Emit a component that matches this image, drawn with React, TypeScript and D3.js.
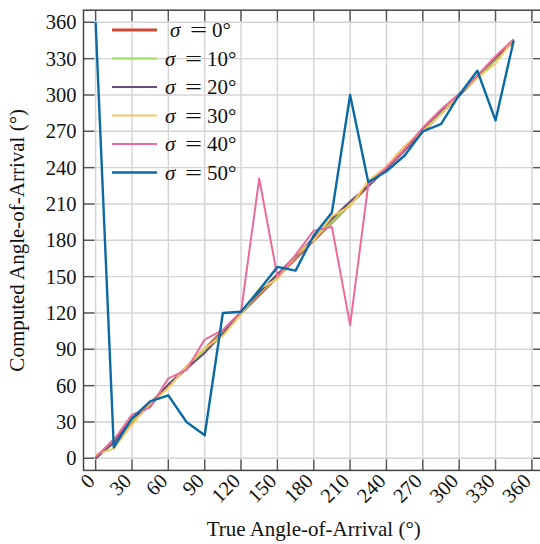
import React from "react";
import * as d3 from "d3";

const trueAngles = [0, 15, 30, 45, 60, 75, 90, 105, 120, 135, 150, 165, 180, 195, 210, 225, 240, 255, 270, 285, 300, 315, 330, 345];
const sigma0 = [0, 15, 30, 45, 60, 75, 90, 105, 120, 135, 150, 165, 180, 195, 210, 225, 240, 255, 270, 285, 300, 315, 330, 345];
const sigma10 = [1, 12, 31, 44, 60, 74, 89, 104, 120, 136, 150, 166, 181, 195, 210, 226, 240, 256, 271, 286, 300, 315, 330, 345];
const sigma20 = [0, 13, 33, 43, 61, 74, 87, 103, 121, 137, 152, 167, 182, 198, 212, 225, 239, 254, 272, 287, 299, 316, 331, 344];
const sigma30 = [3, 8, 28, 45, 58, 76, 91, 101, 119, 140, 148, 168, 180, 200, 208, 229, 241, 258, 270, 284, 301, 314, 326, 346];
const sigma40 = [1, 15, 36, 42, 66, 73, 98, 106, 121, 231, 150, 168, 188, 191, 110, 226, 240, 255, 273, 288, 301, 316, 332, 346];
const sigma50 = [360, 9, 33, 47, 52, 30, 19, 120, 121, 139, 158, 155, 184, 203, 300, 228, 237, 250, 270, 276, 300, 320, 279, 345];

const sigmaLabels = ["0", "10", "20", "30", "40", "50"];
const seriesColors = ["#cc4b37", "#a0dc64", "#6b4c7a", "#f7c862", "#ed6a9a", "#0b6aa3"];
const seriesWidths = [3, 2, 2, 2, 2, 2.4];
const tickValues = [0, 30, 60, 90, 120, 150, 180, 210, 240, 270, 300, 330, 360];

const W = 540;
const H = 544;
const left = 83.5;
const right = 544;
const top = 10.2;
const bottom = 470.4;
const FONT = "Liberation Serif, DejaVu Serif, serif";
const fontStyle = { fontFamily: FONT };

export default function App() {
  const x = d3.scaleLinear().domain([-10, 370]).range([left, right]);
  const y = d3.scaleLinear().domain([-10, 370]).range([bottom, top]);
  const series = [sigma0, sigma10, sigma20, sigma30, sigma40, sigma50];
  const line = d3
    .line<number>()
    .x((_, i) => x(trueAngles[i]))
    .y((d) => y(d));

  const legendY0 = 30;
  const legendStep = 28.5;

  return (
    <svg
      width={W}
      height={H}
      style={{ position: "absolute", left: 0, top: 0, display: "block", background: "#fff", fontFamily: FONT }}
    >
      <defs>
        <clipPath id="plot">
          <rect x={left} y={top} width={right - left} height={bottom - top} />
        </clipPath>
      </defs>
      {/* grid */}
      <g stroke="#d4d4d4" strokeWidth={1.4}>
        {tickValues.map((t) => (
          <line key={"gx" + t} x1={x(t)} x2={x(t)} y1={top} y2={bottom} />
        ))}
        {tickValues.map((t) => (
          <line key={"gy" + t} x1={left} x2={right} y1={y(t)} y2={y(t)} />
        ))}
      </g>
      {/* ticks inward */}
      <g stroke="#555" strokeWidth={1.4}>
        {tickValues.map((t) => (
          <React.Fragment key={"t" + t}>
            <line x1={x(t)} x2={x(t)} y1={bottom} y2={bottom - 11} />
            <line x1={x(t)} x2={x(t)} y1={top} y2={top + 11} />
            <line x1={left} x2={left + 11} y1={y(t)} y2={y(t)} />
            <line x1={right} x2={right - 11} y1={y(t)} y2={y(t)} />
          </React.Fragment>
        ))}
      </g>
      {/* series */}
      <g clipPath="url(#plot)" fill="none" strokeLinejoin="round">
        {series.map((s, i) => (
          <path key={"s" + i} d={line(s) || ""} stroke={seriesColors[i]} strokeWidth={seriesWidths[i]} />
        ))}
      </g>
      {/* spines */}
      <rect x={left} y={top} width={right - left} height={bottom - top} fill="none" stroke="#444" strokeWidth={1.5} />
      {/* y tick labels */}
      <g fontSize={20.5} fill="#111" textAnchor="end">
        {tickValues.map((t) => (
          <text key={"yl" + t} x={left - 7} y={y(t) + 7} style={fontStyle}>
            {t}
          </text>
        ))}
      </g>
      {/* x tick labels */}
      <g fontSize={20.5} fill="#111" textAnchor="end">
        {tickValues.map((t) => (
          <text
            key={"xl" + t}
            transform={`translate(${x(t) - 4.5},${bottom + 7}) rotate(-45)`}
            dy={7}
            style={fontStyle}
          >
            {t}
          </text>
        ))}
      </g>
      {/* axis titles */}
      <text x={(left + right) / 2} y={536} fontSize={21} textAnchor="middle" fill="#111" style={fontStyle}>
        True Angle-of-Arrival (°)
      </text>
      <text
        transform={`translate(24,${(top + bottom) / 2}) rotate(-90)`}
        fontSize={21}
        textAnchor="middle"
        fill="#111"
        style={fontStyle}
      >
        Computed Angle-of-Arrival (°)
      </text>
      {/* legend */}
      <g fontSize={21} fill="#111">
        {sigmaLabels.map((lab, i) => {
          const cy = legendY0 + i * legendStep;
          const tx = i === 0 ? 170 : 165;
          return (
            <g key={"lg" + i}>
              <line x1={112} x2={157} y1={cy} y2={cy} stroke={seriesColors[i]} strokeWidth={seriesWidths[i]} />
              <text x={tx} y={cy + 7} fontStyle="italic" style={fontStyle}>σ</text>
              <text x={tx + 20} y={cy + 7} textLength={17} lengthAdjust="spacingAndGlyphs" style={fontStyle}>=</text>
              <text x={tx + 42} y={cy + 7} style={fontStyle}>{lab}°</text>
            </g>
          );
        })}
      </g>
    </svg>
  );
}
